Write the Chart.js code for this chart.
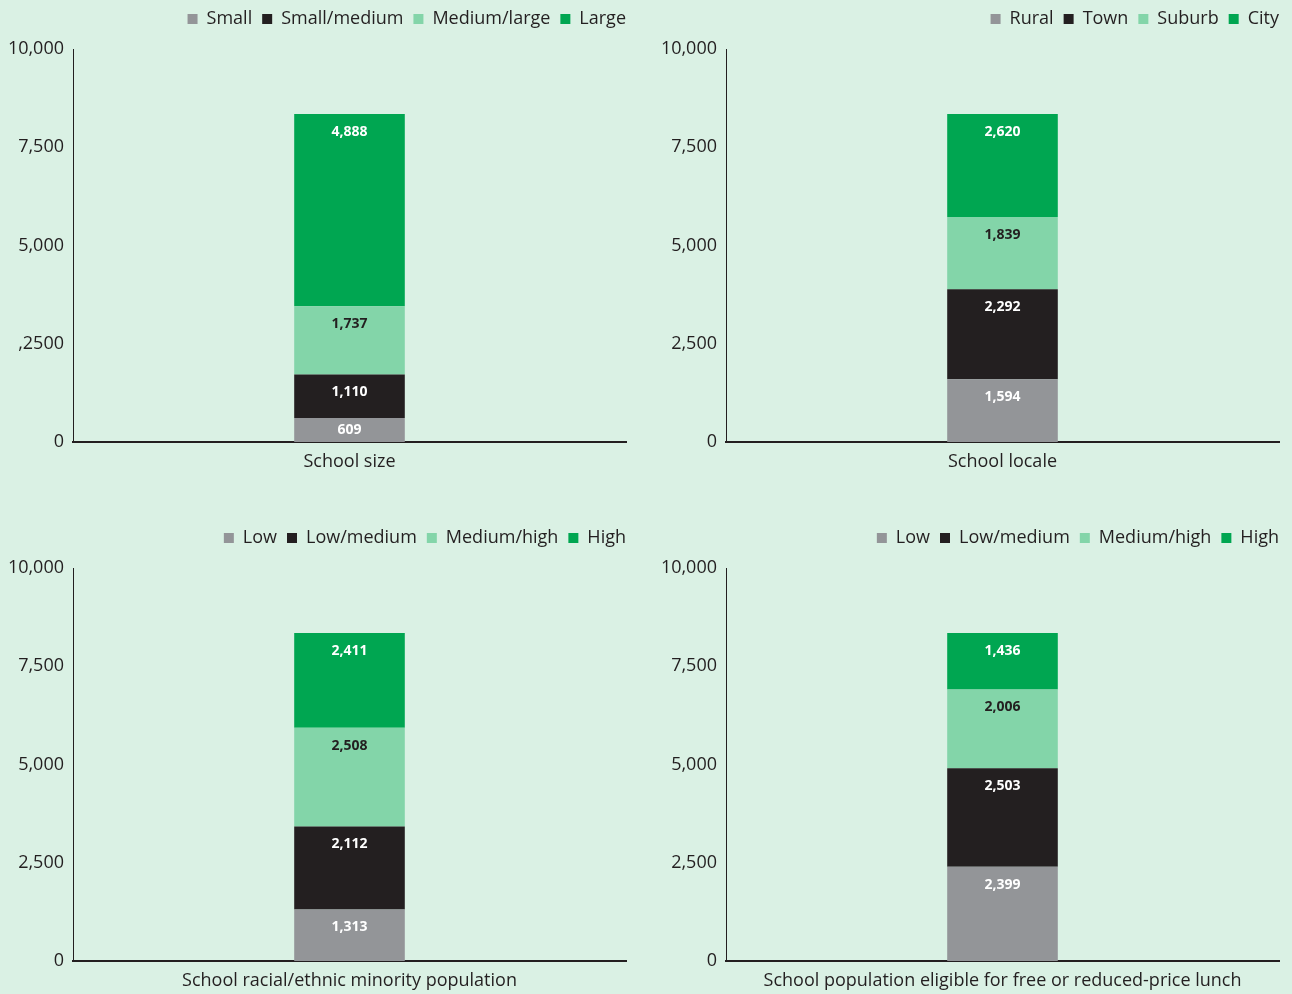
<!DOCTYPE html>
<html>
<head>
<meta charset="utf-8">
<script src="https://cdn.jsdelivr.net/npm/chart.js@4.4.1/dist/chart.umd.min.js"></script>
<style>
  html, body { margin: 0; padding: 0; background: #daf1e4; }
  .wrap { position: relative; width: 1292px; height: 994px; background: #daf1e4; overflow: hidden; }
  .panel { position: absolute; width: 636px; height: 475px; }
  .panel canvas { display: block; }
</style>
</head>
<body>
<div class="wrap">
  <div class="panel" style="left:0;top:0"><canvas id="c1" width="636" height="475"></canvas></div>
  <div class="panel" style="left:653px;top:0"><canvas id="c2" width="636" height="475"></canvas></div>
  <div class="panel" style="left:0;top:519px"><canvas id="c3" width="636" height="475"></canvas></div>
  <div class="panel" style="left:653px;top:519px"><canvas id="c4" width="636" height="475"></canvas></div>
</div>
<script>
  // data per panel (stacked bottom -> top)
  const sizeCategory = ['School size'];
  const sizeSeries = ['Small', 'Small/medium', 'Medium/large', 'Large'];
  const sizeValues = [609, 1110, 1737, 4888];
  const sizeTicks = ['0', ',2500', '5,000', '7,500', '10,000'];

  const localeCategory = ['School locale'];
  const localeSeries = ['Rural', 'Town', 'Suburb', 'City'];
  const localeValues = [1594, 2292, 1839, 2620];

  const minorityCategory = ['School racial/ethnic minority population'];
  const minoritySeries = ['Low', 'Low/medium', 'Medium/high', 'High'];
  const minorityValues = [1313, 2112, 2508, 2411];

  const lunchCategory = ['School population eligible for free or reduced-price lunch'];
  const lunchSeries = ['Low', 'Low/medium', 'Medium/high', 'High'];
  const lunchValues = [2399, 2503, 2006, 1436];

  const yTicks = ['0', '2,500', '5,000', '7,500', '10,000'];

  const colors = ['#939598', '#231f20', '#83d5a9', '#00a651'];
  const labelColors = ['#ffffff', '#ffffff', '#231f20', '#ffffff'];
  const FONT = "'Open Sans', sans-serif";
  const INK = '#231f20';

  // value labels near the top of each segment
  const segLabels = {
    id: 'segLabels',
    afterDatasetsDraw(chart) {
      const ctx = chart.ctx;
      ctx.save();
      ctx.font = 'bold 14px ' + FONT;
      ctx.textAlign = 'center';
      ctx.textBaseline = 'middle';
      chart.data.datasets.forEach((ds, i) => {
        const meta = chart.getDatasetMeta(i);
        meta.data.forEach((bar, j) => {
          const v = ds.data[j];
          const y = Math.min(bar.y + 18, (bar.y + bar.base) / 2);
          ctx.fillStyle = labelColors[i];
          ctx.fillText(v.toLocaleString('en-US'), bar.x, y);
        });
      });
      ctx.restore();
    }
  };

  // leave a bit more room under the legend
  const legendGap = {
    id: 'legendGap',
    afterInit(chart) {
      const lg = chart.legend;
      if (!lg) return;
      const fit = lg.fit;
      lg.fit = function() { fit.call(this); this.height += 11; };
    }
  };

  function makeChart(id, category, series, values, tickLabels) {
    const datasets = series.map((name, i) => ({
      label: name,
      data: [values[i]],
      backgroundColor: colors[i],
      borderWidth: 0,
      barPercentage: 0.2,
      categoryPercentage: 1
    }));
    return new Chart(document.getElementById(id), {
      type: 'bar',
      data: { labels: category, datasets: datasets },
      plugins: [segLabels, legendGap],
      options: {
        responsive: false,
        animation: false,
        layout: { padding: 0 },
        plugins: {
          tooltip: { enabled: false },
          legend: {
            position: 'top',
            align: 'end',
            labels: {
              boxWidth: 10,
              boxHeight: 10,
              padding: 10,
              color: INK,
              font: { family: FONT, size: 18 }
            }
          }
        },
        scales: {
          x: {
            stacked: true,
            grid: { display: false, drawTicks: false },
            border: { display: true, color: INK, width: 2 },
            ticks: { color: INK, padding: 9, font: { family: FONT, size: 18 } },
            afterFit: (s) => { s.height = 33; }
          },
          y: {
            stacked: true,
            min: 0,
            max: 10000,
            grid: { display: false, drawTicks: false },
            border: { display: true, color: INK, width: 1 },
            ticks: {
              stepSize: 2500,
              color: INK,
              padding: 9,
              font: { family: FONT, size: 18 },
              callback: (v) => tickLabels[Math.round(v / 2500)]
            },
            afterFit: (s) => { s.width = 73; }
          },
          // empty right axis, only keeps the plot clear of the legend's right edge
          yr: {
            position: 'right',
            grid: { display: false, drawTicks: false },
            border: { display: false },
            ticks: { display: false },
            afterFit: (s) => { s.width = 10; }
          }
        }
      }
    });
  }

  makeChart('c1', sizeCategory, sizeSeries, sizeValues, sizeTicks);
  makeChart('c2', localeCategory, localeSeries, localeValues, yTicks);
  makeChart('c3', minorityCategory, minoritySeries, minorityValues, yTicks);
  makeChart('c4', lunchCategory, lunchSeries, lunchValues, yTicks);
</script>
</body>
</html>
